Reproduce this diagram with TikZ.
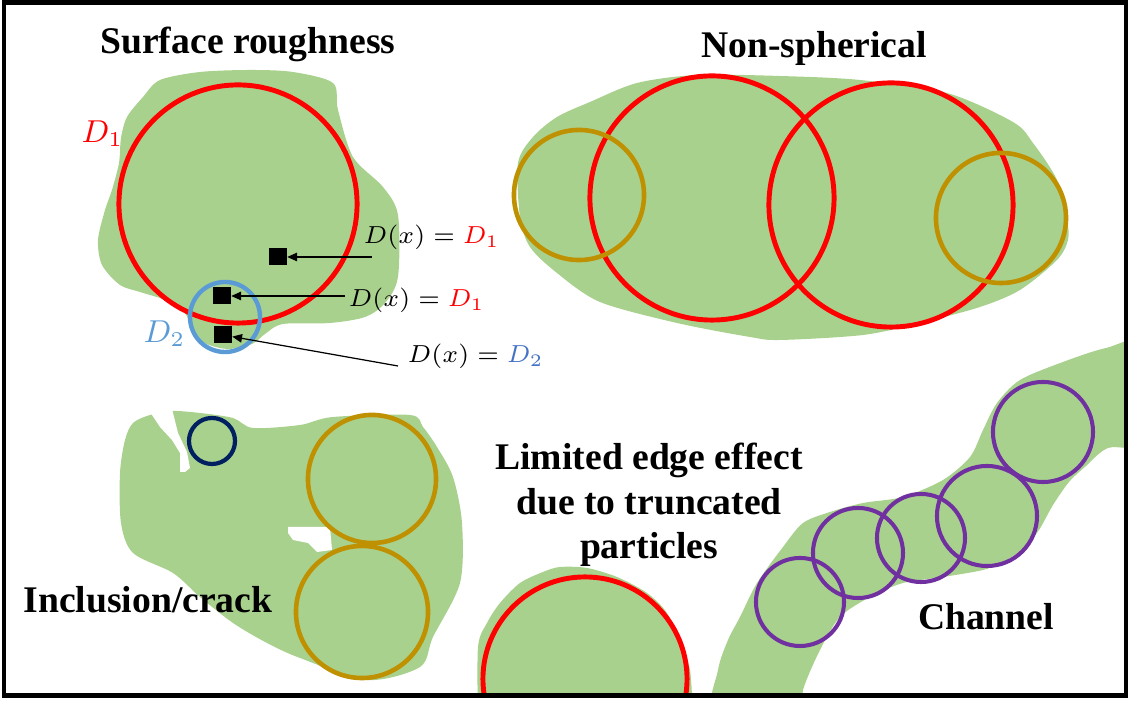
\documentclass[tikz,border=0pt]{standalone}
\usepackage{fontspec}
\setmainfont{Liberation Serif}
\usetikzlibrary{arrows.meta}

\definecolor{grain}{HTML}{A9D18E}
\definecolor{gold}{HTML}{BF9000}
\definecolor{skyblue}{HTML}{5B9BD5}
\definecolor{labelblue}{HTML}{4472C4}
\definecolor{navy}{HTML}{002060}
\definecolor{porepurple}{HTML}{7030A0}

\begin{document}
\begin{tikzpicture}[x=0.01cm,y=-0.01cm,
    title/.style={font=\fontsize{10.7}{12.7}\selectfont\bfseries,inner sep=0pt},
    eqn/.style={font=\fontsize{7.5}{9}\selectfont,inner sep=0pt,anchor=base west},
    grainsize/.style={font=\fontsize{9}{11}\selectfont,inner sep=0pt,anchor=base west},
    pixel/.style={fill=black,minimum size=0.17cm,inner sep=0pt},
    pointer/.style={line width=0.35pt,-{Triangle[length=2.8pt,width=2.4pt]}},
    bigring/.style={red,line width=1.4pt},
    midring/.style={gold,line width=1.3pt},
    porering/.style={porepurple,line width=1.15pt}]

  \useasboundingbox (0,0) rectangle (1129,701);

  \def\roughgrain{plot[smooth cycle,tension=0.5] coordinates{(143,97) (160,80) (200,72) (250,70) (293,72) (333,83) (338,110) (353,157) (383,187) (398,215) (398,277) (385,303) (365,317) (330,323) (283,324) (265,334) (252,344) (228,349) (205,343) (192,327) (184,312) (165,300) (140,292) (120,285) (102,265) (98,240) (105,210) (112,190) (119,163) (121,138) (127,117)}}
  \def\oblonggrain{plot[smooth cycle,tension=0.5] coordinates{(518,163) (533,137) (557,117) (590,102) (637,83) (697,75) (780,76) (860,80) (947,93) (1013,122) (1033,143) (1057,180) (1067,220) (1068,240) (1057,260) (1020,290) (980,307) (920,323) (863,335) (780,340) (750,337) (677,323) (600,302) (557,273) (530,247) (520,217)}}
  \def\crackgrain{plot[smooth cycle,tension=0.5] coordinates{(125,440) (133,423) (150,415) (172,411) (200,413) (233,418) (253,428) (300,425) (333,417) (410,415) (423,427) (437,447) (453,477) (462,523) (460,583) (433,637) (420,667) (367,680) (300,658) (267,643) (233,623) (200,597) (173,573) (133,553) (121,523) (120,473)}}
  \def\crackA{(150,412) -- (172,409) -- (178,433) -- (187,452) -- (190,468) -- (185,472) -- (180,472) -- (180,453) -- (172,440) -- (160,427) -- cycle}
  \def\crackB{(288,527) -- (330,527) -- (332,550) -- (317,552) -- (308,543) -- (293,540) -- (288,533) -- cycle}
  \def\edgegrain{plot[smooth,tension=0.5] coordinates{(478,720) (478,647) (487,623) (500,603) (520,583) (543,572) (560,567) (587,568) (617,577) (647,593) (667,613) (680,643) (690,670) (693,720)} -- cycle}
  \def\channelgrain{plot[smooth cycle,tension=0.5] coordinates{(1150,343) (1106,348) (1063,362) (1020,380) (997,403) (983,430) (970,457) (943,480) (903,497) (863,503) (830,512) (803,523) (783,547) (757,583) (740,617) (728,640) (718,670) (714,720) (800,720) (803,690) (820,650) (840,617) (870,597) (903,583) (943,577) (983,570) (1003,562) (1024,548) (1039,530) (1053,505) (1069,482) (1086,466) (1108,448) (1150,440)}}

  \begin{scope}
      \clip (4,3) rectangle (1126,696);

      \fill[grain] \roughgrain;
      \fill[grain] \oblonggrain;
      \fill[grain] \crackgrain;
      \fill[white] \crackA;
      \fill[white] \crackB;
      \fill[grain] \edgegrain;
      \fill[grain] \channelgrain;

      \draw[bigring] (238,204) circle (1.19cm);
      \draw[skyblue,line width=1.25pt] (225,317) circle (0.35cm);

      \draw[bigring] (712,198) circle (1.22cm);
      \draw[bigring] (891,205) circle (1.22cm);
      \draw[midring] (579,195) circle (0.65cm);
      \draw[midring] (1001,218) circle (0.65cm);

      \draw[navy,line width=1.2pt] (212,441) circle (0.23cm);
      \draw[midring] (372,479) circle (0.64cm);
      \draw[midring] (362,612) circle (0.66cm);

      \draw[bigring] (585,679) circle (1.02cm);

      \draw[porering] (800,602) circle (0.44cm);
      \draw[porering] (858,553) circle (0.45cm);
      \draw[porering] (921,538) circle (0.44cm);
      \draw[porering] (987,516) circle (0.50cm);
      \draw[porering] (1043,432) circle (0.50cm);
  \end{scope}

  \node[pixel] (sqA) at (278,257) {};
  \node[pixel] (sqB) at (222,296) {};
  \node[pixel] (sqC) at (223,335) {};

  \node[eqn] (eqA) at (363,244) {$D(x) = {\color{red}D_1}$};
  \node[eqn] (eqB) at (348,307) {$D(x) = {\color{red}D_1}$};
  \node[eqn] (eqC) at (407,363) {$D(x) = {\color{labelblue}D_2}$};

  \coordinate (tailA) at (372,257);
  \coordinate (tailB) at (345,296);
  \coordinate (tailC) at (398,366);
  \draw[pointer] (tailA) -- (sqA);
  \draw[pointer] (tailB) -- (sqB);
  \draw[pointer] (tailC) -- (sqC);

  \node[grainsize,text=red] (dOne) at (81,143) {$D_1$};
  \node[grainsize,text=skyblue] (dTwo) at (143,343) {$D_2$};

  \node[title,anchor=base] (roughtitle) at (248,54) {Surface roughness};
  \node[title,anchor=base] (shapetitle) at (814,58) {Non-spherical};
  \node[title,anchor=base] (cracktitle) at (148,613) {Inclusion/crack};
  \node[title,anchor=base] (chantitle) at (986,630) {Channel};
  \node[title,align=center] (edgetitle) at (649,505) {Limited edge effect\\due to truncated\\particles};

  \draw[line width=1.42pt] (4,3) rectangle (1126,696);

\end{tikzpicture}
\end{document}
